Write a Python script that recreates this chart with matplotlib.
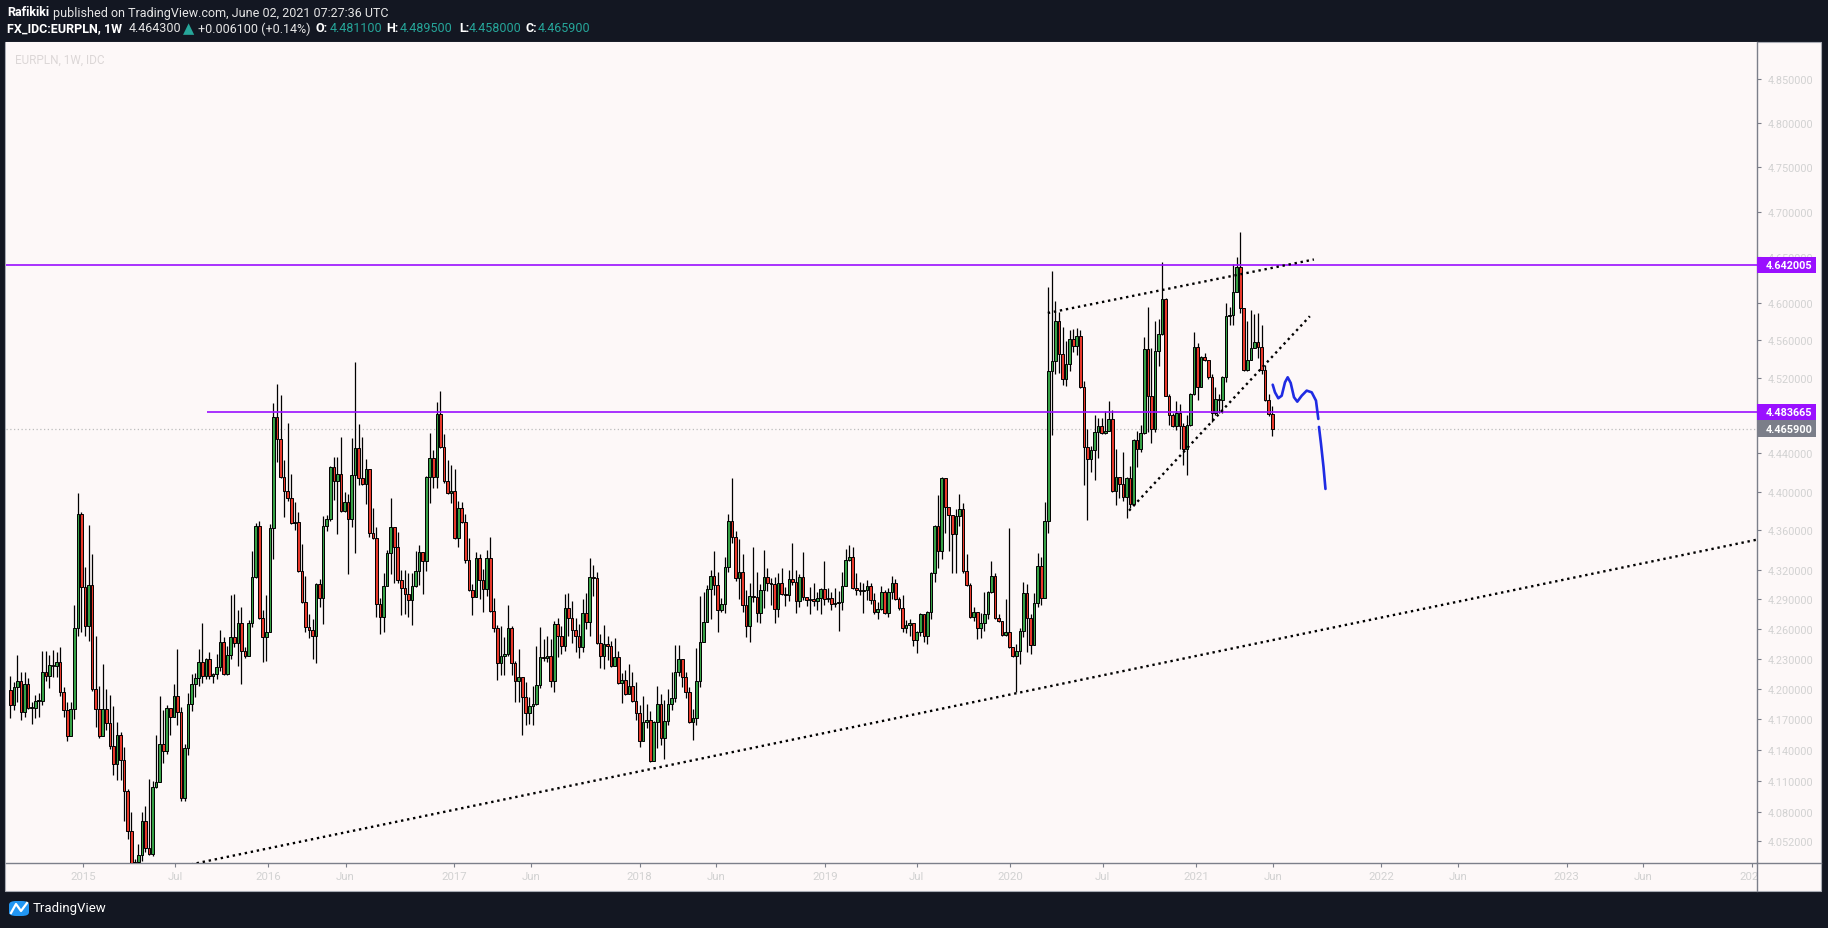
import datetime as dt
import numpy as np
import matplotlib
matplotlib.use("Agg")
import matplotlib.pyplot as plt
import matplotlib.dates as mdates
import matplotlib.ticker as mticker
from matplotlib.patches import Rectangle, FancyBboxPatch
from matplotlib.lines import Line2D

plt.rcParams['font.family'] = ['Roboto', 'DejaVu Sans']

# ---------------- data (weekly EURPLN) ----------------
first_week = dt.date(2014, 8, 11)
first_open = 4.199
close = [
 4.184, 4.202, 4.208, 4.177, 4.205, 4.181, 4.181, 4.188, 4.188, 4.217,
 4.213, 4.224, 4.223, 4.227, 4.197, 4.179, 4.154, 4.180, 4.261, 4.377,
 4.302, 4.263, 4.304, 4.200, 4.180, 4.154, 4.180, 4.166, 4.144, 4.126,
 4.155, 4.130, 4.100, 4.062, 4.029, 4.032, 4.039, 4.071, 4.045, 4.040,
 4.104, 4.109, 4.146, 4.139, 4.181, 4.172, 4.193, 4.177, 4.093, 4.142,
 4.185, 4.205, 4.211, 4.227, 4.213, 4.230, 4.213, 4.215, 4.222, 4.247,
 4.215, 4.234, 4.252, 4.246, 4.266, 4.238, 4.233, 4.266, 4.312, 4.365,
 4.271, 4.252, 4.257, 4.363, 4.478, 4.455, 4.415, 4.401, 4.393, 4.368,
 4.369, 4.318, 4.287, 4.262, 4.259, 4.253, 4.305, 4.291, 4.365, 4.372,
 4.426, 4.411, 4.418, 4.380, 4.389, 4.372, 4.417, 4.446, 4.414, 4.408,
 4.424, 4.357, 4.352, 4.285, 4.272, 4.303, 4.337, 4.364, 4.343, 4.309,
 4.301, 4.295, 4.289, 4.303, 4.318, 4.338, 4.329, 4.415, 4.435, 4.415,
 4.481, 4.447, 4.411, 4.399, 4.401, 4.352, 4.383, 4.369, 4.330, 4.299,
 4.292, 4.332, 4.309, 4.300, 4.332, 4.278, 4.261, 4.226, 4.233, 4.235,
 4.261, 4.226, 4.208, 4.212, 4.192, 4.176, 4.183, 4.185, 4.204, 4.232,
 4.231, 4.233, 4.208, 4.265, 4.253, 4.243, 4.281, 4.271, 4.259, 4.253,
 4.242, 4.276, 4.267, 4.312, 4.311, 4.246, 4.233, 4.245, 4.243, 4.223,
 4.232, 4.206, 4.209, 4.195, 4.203, 4.188, 4.176, 4.149, 4.167, 4.169,
 4.129, 4.167, 4.185, 4.152, 4.168, 4.185, 4.191, 4.217, 4.230, 4.212,
 4.197, 4.167, 4.171, 4.208, 4.247, 4.267, 4.300, 4.313, 4.304, 4.279,
 4.285, 4.323, 4.370, 4.353, 4.311, 4.317, 4.284, 4.263, 4.293, 4.292,
 4.276, 4.299, 4.312, 4.306, 4.305, 4.280, 4.306, 4.295, 4.294, 4.310,
 4.307, 4.288, 4.312, 4.292, 4.289, 4.290, 4.288, 4.291, 4.300, 4.290,
 4.291, 4.285, 4.286, 4.287, 4.303, 4.330, 4.333, 4.301, 4.299, 4.298,
 4.299, 4.303, 4.289, 4.277, 4.280, 4.297, 4.276, 4.297, 4.306, 4.290,
 4.281, 4.261, 4.264, 4.266, 4.249, 4.257, 4.275, 4.253, 4.277, 4.316,
 4.365, 4.339, 4.414, 4.384, 4.376, 4.356, 4.375, 4.382, 4.318, 4.304,
 4.272, 4.277, 4.261, 4.266, 4.275, 4.297, 4.313, 4.271, 4.268, 4.254,
 4.257, 4.242, 4.233, 4.238, 4.258, 4.296, 4.271, 4.244, 4.286, 4.324,
 4.291, 4.370, 4.527, 4.538, 4.581, 4.545, 4.519, 4.535, 4.561, 4.554,
 4.565, 4.510, 4.447, 4.434, 4.444, 4.462, 4.469, 4.461, 4.463, 4.476,
 4.401, 4.415, 4.408, 4.395, 4.414, 4.387, 4.454, 4.445, 4.461, 4.551,
 4.501, 4.466, 4.548, 4.567, 4.605, 4.501, 4.480, 4.469, 4.483, 4.469,
 4.445, 4.470, 4.503, 4.553, 4.510, 4.542, 4.539, 4.521, 4.482, 4.497,
 4.496, 4.521, 4.586, 4.587, 4.612, 4.640, 4.595, 4.528, 4.539, 4.552,
 4.558, 4.553, 4.528, 4.496, 4.4816, 4.4659]
high = [
 4.213, 4.207, 4.234, 4.217, 4.217, 4.211, 4.187, 4.194, 4.196, 4.238,
 4.238, 4.234, 4.239, 4.237, 4.242, 4.202, 4.187, 4.187, 4.284, 4.399,
 4.379, 4.323, 4.366, 4.336, 4.253, 4.203, 4.225, 4.200, 4.194, 4.183,
 4.167, 4.158, 4.143, 4.102, 4.080, 4.035, 4.049, 4.080, 4.086, 4.112,
 4.110, 4.155, 4.193, 4.179, 4.184, 4.181, 4.205, 4.240, 4.182, 4.146,
 4.196, 4.215, 4.216, 4.240, 4.266, 4.231, 4.237, 4.216, 4.235, 4.259,
 4.252, 4.243, 4.294, 4.295, 4.279, 4.282, 4.242, 4.269, 4.339, 4.368,
 4.370, 4.279, 4.294, 4.367, 4.493, 4.513, 4.502, 4.433, 4.472, 4.418,
 4.389, 4.379, 4.346, 4.313, 4.275, 4.270, 4.306, 4.310, 4.375, 4.376,
 4.427, 4.436, 4.436, 4.457, 4.400, 4.398, 4.456, 4.537, 4.471, 4.457,
 4.434, 4.424, 4.383, 4.364, 4.291, 4.316, 4.340, 4.393, 4.364, 4.358,
 4.319, 4.320, 4.316, 4.316, 4.339, 4.345, 4.338, 4.416, 4.461, 4.444,
 4.494, 4.506, 4.460, 4.433, 4.428, 4.424, 4.390, 4.389, 4.377, 4.352,
 4.305, 4.338, 4.336, 4.321, 4.340, 4.353, 4.291, 4.264, 4.263, 4.252,
 4.284, 4.263, 4.228, 4.240, 4.212, 4.207, 4.192, 4.203, 4.243, 4.262,
 4.250, 4.253, 4.250, 4.268, 4.271, 4.263, 4.295, 4.296, 4.288, 4.271,
 4.265, 4.290, 4.296, 4.332, 4.325, 4.317, 4.255, 4.264, 4.253, 4.248,
 4.251, 4.238, 4.216, 4.219, 4.225, 4.217, 4.207, 4.184, 4.193, 4.185,
 4.178, 4.168, 4.203, 4.195, 4.189, 4.200, 4.217, 4.244, 4.244, 4.230,
 4.217, 4.202, 4.180, 4.241, 4.293, 4.297, 4.304, 4.319, 4.339, 4.317,
 4.291, 4.333, 4.377, 4.414, 4.359, 4.351, 4.336, 4.299, 4.306, 4.343,
 4.317, 4.305, 4.340, 4.322, 4.311, 4.312, 4.316, 4.322, 4.302, 4.320,
 4.347, 4.320, 4.315, 4.338, 4.292, 4.302, 4.306, 4.297, 4.301, 4.329,
 4.301, 4.297, 4.301, 4.298, 4.317, 4.341, 4.345, 4.343, 4.316, 4.307,
 4.306, 4.309, 4.306, 4.296, 4.287, 4.303, 4.299, 4.301, 4.313, 4.310,
 4.292, 4.294, 4.269, 4.270, 4.266, 4.258, 4.276, 4.272, 4.278, 4.317,
 4.366, 4.397, 4.415, 4.399, 4.379, 4.365, 4.382, 4.398, 4.388, 4.336,
 4.306, 4.282, 4.276, 4.276, 4.297, 4.298, 4.329, 4.316, 4.275, 4.267,
 4.290, 4.363, 4.240, 4.245, 4.261, 4.307, 4.305, 4.275, 4.296, 4.337,
 4.333, 4.389, 4.618, 4.635, 4.603, 4.591, 4.574, 4.559, 4.571, 4.572,
 4.573, 4.571, 4.516, 4.466, 4.448, 4.480, 4.477, 4.477, 4.485, 4.495,
 4.486, 4.445, 4.415, 4.441, 4.415, 4.427, 4.455, 4.464, 4.470, 4.564,
 4.596, 4.552, 4.581, 4.583, 4.645, 4.606, 4.503, 4.483, 4.495, 4.492,
 4.472, 4.480, 4.504, 4.569, 4.557, 4.543, 4.546, 4.536, 4.524, 4.510,
 4.503, 4.522, 4.600, 4.596, 4.643, 4.651, 4.678, 4.595, 4.581, 4.593,
 4.588, 4.590, 4.577, 4.533, 4.503, 4.4895]
low = [
 4.171, 4.179, 4.187, 4.169, 4.172, 4.180, 4.165, 4.171, 4.172, 4.184,
 4.208, 4.201, 4.212, 4.212, 4.193, 4.172, 4.149, 4.154, 4.170, 4.253,
 4.257, 4.253, 4.248, 4.198, 4.162, 4.152, 4.154, 4.159, 4.141, 4.116,
 4.111, 4.111, 4.071, 4.054, 3.985, 3.995, 4.022, 4.033, 4.041, 4.039,
 4.038, 4.103, 4.109, 4.127, 4.136, 4.155, 4.172, 4.164, 4.090, 4.090,
 4.135, 4.178, 4.192, 4.203, 4.206, 4.210, 4.210, 4.206, 4.210, 4.218,
 4.214, 4.214, 4.230, 4.242, 4.223, 4.205, 4.231, 4.236, 4.262, 4.311,
 4.270, 4.227, 4.228, 4.258, 4.331, 4.431, 4.414, 4.374, 4.390, 4.367,
 4.360, 4.317, 4.286, 4.257, 4.251, 4.230, 4.226, 4.282, 4.265, 4.359,
 4.370, 4.391, 4.356, 4.379, 4.379, 4.315, 4.364, 4.337, 4.407, 4.407,
 4.387, 4.353, 4.351, 4.272, 4.255, 4.257, 4.306, 4.315, 4.306, 4.306,
 4.274, 4.275, 4.272, 4.264, 4.302, 4.304, 4.295, 4.318, 4.388, 4.404,
 4.404, 4.446, 4.409, 4.398, 4.388, 4.351, 4.343, 4.368, 4.327, 4.298,
 4.274, 4.293, 4.290, 4.277, 4.293, 4.277, 4.257, 4.209, 4.214, 4.214,
 4.233, 4.214, 4.187, 4.187, 4.155, 4.164, 4.165, 4.164, 4.184, 4.201,
 4.228, 4.227, 4.202, 4.197, 4.232, 4.235, 4.238, 4.253, 4.246, 4.237,
 4.231, 4.237, 4.260, 4.253, 4.293, 4.245, 4.221, 4.220, 4.229, 4.222,
 4.223, 4.205, 4.186, 4.194, 4.196, 4.187, 4.169, 4.143, 4.151, 4.161,
 4.128, 4.130, 4.142, 4.145, 4.131, 4.164, 4.179, 4.187, 4.213, 4.202,
 4.191, 4.166, 4.150, 4.164, 4.202, 4.247, 4.267, 4.270, 4.294, 4.257,
 4.277, 4.276, 4.317, 4.347, 4.308, 4.290, 4.277, 4.252, 4.247, 4.287,
 4.267, 4.266, 4.281, 4.298, 4.284, 4.266, 4.272, 4.294, 4.283, 4.288,
 4.304, 4.276, 4.282, 4.289, 4.283, 4.275, 4.283, 4.279, 4.275, 4.284,
 4.287, 4.279, 4.282, 4.258, 4.279, 4.310, 4.329, 4.300, 4.294, 4.294,
 4.276, 4.289, 4.285, 4.275, 4.270, 4.279, 4.275, 4.272, 4.290, 4.289,
 4.279, 4.257, 4.256, 4.253, 4.243, 4.236, 4.253, 4.247, 4.245, 4.270,
 4.307, 4.322, 4.331, 4.357, 4.339, 4.316, 4.316, 4.365, 4.316, 4.303,
 4.271, 4.268, 4.250, 4.251, 4.258, 4.270, 4.296, 4.270, 4.267, 4.253,
 4.253, 4.241, 4.232, 4.197, 4.225, 4.252, 4.237, 4.235, 4.244, 4.282,
 4.284, 4.292, 4.357, 4.459, 4.524, 4.525, 4.512, 4.511, 4.527, 4.547,
 4.544, 4.509, 4.407, 4.371, 4.421, 4.412, 4.435, 4.460, 4.460, 4.463,
 4.400, 4.386, 4.393, 4.390, 4.373, 4.383, 4.387, 4.426, 4.441, 4.460,
 4.462, 4.451, 4.462, 4.532, 4.566, 4.500, 4.470, 4.468, 4.465, 4.445,
 4.428, 4.417, 4.469, 4.502, 4.496, 4.510, 4.538, 4.519, 4.473, 4.480,
 4.483, 4.483, 4.515, 4.577, 4.577, 4.612, 4.590, 4.527, 4.527, 4.543,
 4.552, 4.541, 4.524, 4.495, 4.479, 4.4580]

# horizontal levels / current price
level_high = 4.642005
level_low = 4.483665
level_low_start = dt.date(2015, 9, 2)
last_price = 4.465900

# trend lines (date, price) anchors
trend_bottom = [(dt.date(2015, 8, 1), 4.0296), (dt.date(2024, 3, 1), 4.356)]
wedge_top = [(dt.date(2020, 3, 15), 4.5895), (dt.date(2021, 8, 21), 4.6478)]
wedge_bottom = [(dt.date(2020, 8, 22), 4.3804), (dt.date(2021, 8, 13), 4.5860)]

# blue hand-drawn projection (days after 2021-01-01, price)
sketch_ref = dt.date(2021, 1, 1)
sketch1_days = [150.9, 155.4, 161.9, 168.6, 175.1, 180.4, 186.3, 192.8, 199.3,
                208.0, 217.8, 227.7, 236.1, 240.7]
sketch1_price = [4.5125, 4.5044, 4.4981, 4.5008, 4.5151, 4.5204, 4.5144, 4.4992,
                 4.4945, 4.5008, 4.5062, 4.5044, 4.4956, 4.4762]
sketch2_days = [242.0, 246.0, 250.9, 254.8]
sketch2_price = [4.4678, 4.4499, 4.4258, 4.4029]

price_ticks = [4.85, 4.80, 4.75, 4.70, 4.65, 4.60, 4.56, 4.52, 4.44, 4.40,
               4.36, 4.32, 4.29, 4.26, 4.23, 4.20, 4.17, 4.14, 4.11, 4.08, 4.052]
time_ticks = [dt.date(2015, 1, 1), dt.date(2015, 7, 1), dt.date(2016, 1, 1),
              dt.date(2016, 6, 1), dt.date(2017, 1, 1), dt.date(2017, 6, 1),
              dt.date(2018, 1, 1), dt.date(2018, 6, 1), dt.date(2019, 1, 1),
              dt.date(2019, 7, 1), dt.date(2020, 1, 1), dt.date(2020, 7, 1),
              dt.date(2021, 1, 1), dt.date(2021, 6, 1), dt.date(2022, 1, 1),
              dt.date(2022, 6, 1), dt.date(2023, 1, 1), dt.date(2023, 6, 1),
              dt.date(2024, 1, 1)]
time_labels = ['2015', 'Jul', '2016', 'Jun', '2017', 'Jun', '2018', 'Jun', '2019',
               'Jul', '2020', 'Jul', '2021', 'Jun', '2022', 'Jun', '2023', 'Jun', '2024']

# ---------------- styling ----------------
BG = '#131722'
PANEL = '#fdf8f8'
AXIS = '#7c7f8a'
LABEL = '#d2d2d2'
UP = '#36a146'
DOWN = '#e8382b'
PURPLE = '#9a10ff'
TEAL = '#26a69a'
BLUE = '#1f2be3'

W, H = 1828, 929
fig = plt.figure(figsize=(W / 100, H / 100), dpi=100)
fig.patch.set_facecolor(BG)


def fx(px):
    return px / W


def fy(py):
    return 1 - py / H


# chart panel
fig.add_artist(Rectangle((fx(5), fy(892)), fx(1821) - fx(5), fy(43) - fy(892),
                         transform=fig.transFigure, facecolor=PANEL,
                         edgecolor='#a9acb4', lw=0.8, zorder=-1))

ax = fig.add_axes([fx(6), fy(864), fx(1757) - fx(6), fy(43) - fy(864)])
ax.set_facecolor(PANEL)
ax.set_yscale('log')
d2015 = mdates.date2num(dt.date(2015, 1, 1))
ax.set_xlim(d2015 - 151.6, d2015 + 3296.6)
ax.set_ylim(4.0310, 4.8925)

# candles
n = len(close)
xs = mdates.date2num(first_week) + 7 * np.arange(n)
c = np.array(close)
o = np.concatenate([[first_open], c[:-1]])
hi = np.array(high)
lo = np.array(low)
bottoms = np.minimum(o, c)
heights = np.maximum(np.abs(c - o), 0.0007)
cols = [UP if cc >= oo else DOWN for oo, cc in zip(o, c)]
ax.vlines(xs, lo, hi, color='black', lw=0.9, zorder=3)
ax.bar(xs, heights, bottom=bottoms, width=5.2, color=cols, edgecolor='black',
       linewidth=0.7, zorder=4)

# levels
ax.axhline(level_high, color=PURPLE, lw=1.2, zorder=5)
ax.hlines(level_low, mdates.date2num(level_low_start), d2015 + 3400, color=PURPLE,
          lw=1.2, zorder=5)
ax.axhline(last_price, color='#bdbdbd', lw=0.9, ls=(0, (1, 2)), zorder=2)

# trend lines
for line in (trend_bottom, wedge_top, wedge_bottom):
    ax.plot([mdates.date2num(p[0]) for p in line], [p[1] for p in line],
            color='black', lw=1.7, ls=(0, (1, 1.6)), dash_capstyle='butt', zorder=6)

# blue sketch
ref = mdates.date2num(sketch_ref)
ax.plot(ref + np.array(sketch1_days), sketch1_price, color=BLUE, lw=1.9,
        solid_capstyle='round', solid_joinstyle='round', zorder=7)
ax.plot(ref + np.array(sketch2_days), sketch2_price, color=BLUE, lw=1.9,
        solid_capstyle='round', solid_joinstyle='round', zorder=7)

# axes & ticks
for s in ('top', 'left'):
    ax.spines[s].set_visible(False)
for s in ('right', 'bottom'):
    ax.spines[s].set_color(AXIS)
    ax.spines[s].set_linewidth(1.0)
ax.yaxis.tick_right()
ax.yaxis.set_minor_locator(mticker.NullLocator())
ax.yaxis.set_minor_formatter(mticker.NullFormatter())
ax.set_yticks(price_ticks)
ax.set_yticklabels(['%.6f' % v for v in price_ticks])
ax.xaxis.set_minor_locator(mticker.NullLocator())
ax.set_xticks([mdates.date2num(d) for d in time_ticks])
ax.set_xticklabels(time_labels)
ax.tick_params(axis='y', direction='out', length=3, width=0.8, color=AXIS,
               labelcolor=LABEL, labelsize=7.8, pad=4.5)
ax.tick_params(axis='x', direction='out', length=3, width=0.8, color=AXIS,
               labelcolor=LABEL, labelsize=8.2, pad=3)

# lower-right corner of the panel (covers overflowing time label)
fig.add_artist(Rectangle((fx(1758), fy(891)), fx(1820) - fx(1758), fy(865) - fy(891),
                         transform=fig.transFigure, facecolor=PANEL,
                         edgecolor='none', zorder=5))
fig.add_artist(Line2D([fx(1757), fx(1757)], [fy(864), fy(892)],
                      transform=fig.transFigure, color=AXIS, lw=1.0, zorder=6))
fig.add_artist(Line2D([fx(1757), fx(1821)], [fy(864), fy(864)],
                      transform=fig.transFigure, color=AXIS, lw=1.0, zorder=6))


# price badges
def badge(value, color):
    ypix = ax.transData.transform((ax.get_xlim()[0], value))[1]
    yf = ypix / H
    hh = 16.5 / H
    fig.add_artist(Rectangle((fx(1757), yf - hh / 2), fx(1816) - fx(1757), hh,
                             transform=fig.transFigure, facecolor=color,
                             edgecolor='none', zorder=7))
    fig.text(fx(1766), yf, '%.6f' % value, color='white', fontsize=7.8,
             fontweight='bold', va='center', ha='left', zorder=8)


badge(level_high, PURPLE)
badge(level_low, PURPLE)
badge(last_price, '#7b7e89')

# watermark
fig.text(fx(15), fy(60), 'EURPLN, 1W, IDC', color='#dcd7d7', fontsize=8.5,
         va='center', ha='left')

# header
y1, y2 = fy(13), fy(29)
fig.text(fx(7), y1, 'Rafikiki', color='white', fontsize=9, fontweight='bold', va='center')
fig.text(fx(53), y1, 'published on TradingView.com, June 02, 2021 07:27:36 UTC',
         color='#e6e6e6', fontsize=9, va='center')
pieces = [
    (7, 'FX_IDC:EURPLN, 1W', 'white', 'bold'),
    (129, '4.464300', '#e6e6e6', 'normal'),
    (198, '+0.006100 (+0.14%)', '#e6e6e6', 'normal'),
    (316, 'O:', 'white', 'bold'),
    (330, '4.481100', TEAL, 'normal'),
    (386, 'H:', 'white', 'bold'),
    (400, '4.489500', TEAL, 'normal'),
    (459, 'L:', 'white', 'bold'),
    (469, '4.458000', TEAL, 'normal'),
    (526, 'C:', 'white', 'bold'),
    (538, '4.465900', TEAL, 'normal'),
]
for px, txt, col, wt in pieces:
    fig.text(fx(px), y2, txt, color=col, fontsize=9, fontweight=wt, va='center')
fig.text(fx(183), y2, '\u25b2', color=TEAL, fontsize=10.5, va='center',
         family='DejaVu Sans')

# TradingView logo (simplified)
fig.add_artist(FancyBboxPatch((fx(9), fy(917)), fx(29) - fx(9), fy(902) - fy(917),
                              boxstyle='round,pad=0.0,rounding_size=0.004',
                              transform=fig.transFigure, facecolor='#2196f3',
                              edgecolor='none', zorder=3))
fig.add_artist(Line2D([fx(11), fx(16), fx(21), fx(27)], [fy(914), fy(905), fy(912), fy(904)],
                      transform=fig.transFigure, color='white', lw=1.6, zorder=4))
fig.text(fx(33), fy(909), 'TradingView', color='white', fontsize=9.5, va='center')

fig.savefig('out.png', dpi=100, facecolor=BG)
